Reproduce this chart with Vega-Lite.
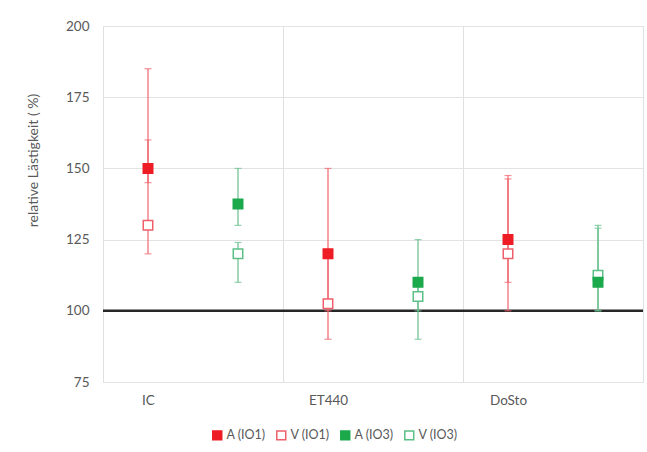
{
  "$schema": "https://vega.github.io/schema/vega-lite/v6.json",
  "width": 540,
  "height": 356,
  "autosize": "none",
  "padding": {"left": 103, "top": 26, "right": 4, "bottom": 70},
  "background": "white",
  "config": {
    "font": "Lato",
    "view": {"stroke": "#dcdcdc", "strokeWidth": 1},
    "axis": {
      "labelColor": "#595959",
      "titleColor": "#595959",
      "labelFont": "Lato",
      "titleFont": "Lato",
      "gridColor": "#e3e3e3",
      "domain": false,
      "ticks": false
    },
    "legend": {
      "orient": "none",
      "legendX": 108,
      "legendY": 403,
      "direction": "horizontal",
      "columns": 4,
      "columnPadding": 7,
      "padding": 0,
      "symbolType": "square",
      "symbolSize": 80,
      "symbolStrokeWidth": 1.5,
      "labelFontSize": 12.5,
      "labelColor": "#595959",
      "labelOffset": 3,
      "labelFont": "Lato"
    }
  },
  "data": {
    "values": [
      {"group": "IC", "io": "IO1", "kind": "A", "series": "A (IO1)", "value": 150, "lo": 145, "hi": 185},
      {"group": "IC", "io": "IO1", "kind": "V", "series": "V (IO1)", "value": 130, "lo": 120, "hi": 160},
      {"group": "IC", "io": "IO3", "kind": "A", "series": "A (IO3)", "value": 137.5, "lo": 130, "hi": 150},
      {"group": "IC", "io": "IO3", "kind": "V", "series": "V (IO3)", "value": 120, "lo": 110, "hi": 124},
      {"group": "ET440", "io": "IO1", "kind": "A", "series": "A (IO1)", "value": 120, "lo": 100, "hi": 150},
      {"group": "ET440", "io": "IO1", "kind": "V", "series": "V (IO1)", "value": 102.5, "lo": 90, "hi": 120},
      {"group": "ET440", "io": "IO3", "kind": "A", "series": "A (IO3)", "value": 110, "lo": 100, "hi": 125},
      {"group": "ET440", "io": "IO3", "kind": "V", "series": "V (IO3)", "value": 105, "lo": 90, "hi": 110},
      {"group": "DoSto", "io": "IO1", "kind": "A", "series": "A (IO1)", "value": 125, "lo": 110, "hi": 147.5},
      {"group": "DoSto", "io": "IO1", "kind": "V", "series": "V (IO1)", "value": 120, "lo": 100, "hi": 146.3},
      {"group": "DoSto", "io": "IO3", "kind": "A", "series": "A (IO3)", "value": 110, "lo": 100, "hi": 130},
      {"group": "DoSto", "io": "IO3", "kind": "V", "series": "V (IO3)", "value": 112.5, "lo": 100, "hi": 129}
    ]
  },
  "layer": [
    {
      "data": {"values": [{"ref": 100}]},
      "mark": {"type": "rule", "color": "#262626", "strokeWidth": 2.5},
      "encoding": {
        "y": {
          "field": "ref",
          "type": "quantitative",
          "scale": {"domain": [75, 200], "nice": false, "zero": false},
          "axis": {
            "values": [75, 100, 125, 150, 175, 200],
            "labelFontSize": 13.5,
            "labelPadding": 14,
            "grid": true,
            "title": "relative Lästigkeit ( %)",
            "titleFontSize": 14,
            "titleFontWeight": "normal",
            "titleX": -70,
            "titleY": 134,
            "titleBaseline": "middle"
          }
        }
      }
    },
    {
      "encoding": {
        "x": {
          "field": "group",
          "type": "nominal",
          "sort": ["IC", "ET440", "DoSto"],
          "scale": {"paddingInner": 0, "paddingOuter": 0},
          "axis": {
            "title": null,
            "grid": true,
            "tickBand": "extent",
            "labelOffset": -45,
            "labelPadding": 11,
            "labelFontSize": 13.5,
            "labelAngle": 0,
            "gridColor": "#e0e0e0"
          }
        },
        "xOffset": {
          "field": "io",
          "type": "nominal",
          "sort": ["IO1", "IO3"],
          "scale": {"paddingInner": 0, "paddingOuter": 0}
        }
      },
      "layer": [
        {
          "mark": {"type": "rule", "strokeWidth": 1.2},
          "encoding": {
            "y": {"field": "lo", "type": "quantitative"},
            "y2": {"field": "hi"},
            "color": {
              "field": "io",
              "type": "nominal",
              "scale": {"domain": ["IO1", "IO3"], "range": ["#f0646e", "#66c08c"]},
              "legend": null
            }
          }
        },
        {
          "mark": {"type": "tick", "orient": "horizontal", "size": 7, "thickness": 1.2},
          "encoding": {
            "y": {"field": "lo", "type": "quantitative"},
            "color": {"field": "io", "type": "nominal", "legend": null}
          }
        },
        {
          "mark": {"type": "tick", "orient": "horizontal", "size": 7, "thickness": 1.2},
          "encoding": {
            "y": {"field": "hi", "type": "quantitative"},
            "color": {"field": "io", "type": "nominal", "legend": null}
          }
        },
        {
          "transform": [{"filter": "datum.kind === 'V'"}],
          "mark": {"type": "square", "size": 90, "strokeWidth": 1.5, "opacity": 1},
          "encoding": {
            "y": {"field": "value", "type": "quantitative"},
            "fill": {
              "field": "series",
              "type": "nominal",
              "scale": {
                "domain": ["A (IO1)", "V (IO1)", "A (IO3)", "V (IO3)"],
                "range": ["#ee1c25", "#ffffff", "#1ba94c", "#ffffff"]
              },
              "legend": {"title": null}
            },
            "stroke": {
              "field": "series",
              "type": "nominal",
              "scale": {
                "domain": ["A (IO1)", "V (IO1)", "A (IO3)", "V (IO3)"],
                "range": ["#ee1c25", "#ee5f6b", "#1ba94c", "#5cbf85"]
              },
              "legend": {"title": null}
            }
          }
        },
        {
          "transform": [{"filter": "datum.kind === 'A'"}],
          "mark": {"type": "square", "size": 90, "strokeWidth": 1.5, "opacity": 1},
          "encoding": {
            "y": {"field": "value", "type": "quantitative"},
            "fill": {"field": "series", "type": "nominal"},
            "stroke": {"field": "series", "type": "nominal"}
          }
        }
      ]
    }
  ]
}
